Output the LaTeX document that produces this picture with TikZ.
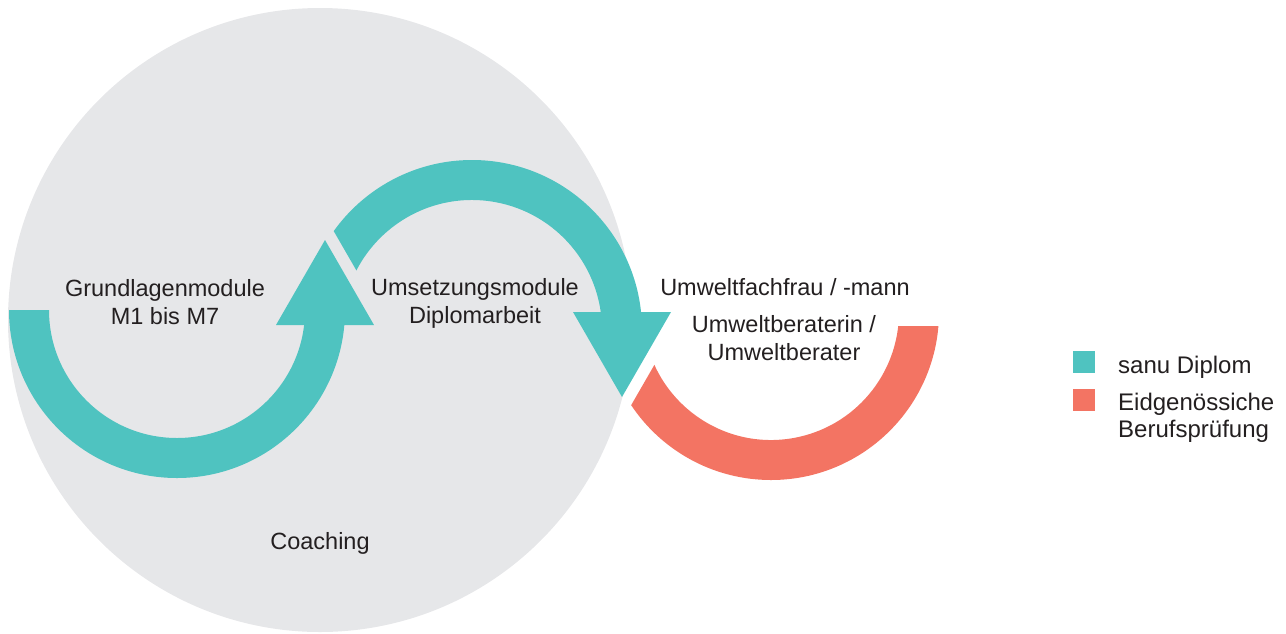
\documentclass[tikz,border=0pt]{standalone}
\usepackage{fontspec}
\setmainfont{Liberation Sans}
\usetikzlibrary{calc}

\definecolor{coachgrey}{HTML}{E6E7E9}
\definecolor{sanuteal}{HTML}{4FC3C0}
\definecolor{bpcoral}{HTML}{F37463}
\definecolor{modink}{HTML}{231F20}

\begin{document}
\begin{tikzpicture}[x=1pt, y=-1pt,
  modtext/.style={text=modink, font=\fontsize{23.5}{28}\selectfont, align=center, inner sep=0pt},
  legendbox/.style={fill=#1, minimum size=22pt, inner sep=0pt}]
\useasboundingbox (0,0) rectangle (1286,633);

% Coaching circle
\fill[coachgrey] (320,320) circle[radius=312];

% Centres of the three arcs
\coordinate (c1) at (177,310);
\coordinate (c2) at (472,330);
\coordinate (c3) at (771,312);

% First arc with arrow head
\fill[sanuteal] ($(c1)+(0:168)$) arc[start angle=0, end angle=180, radius=168]
  -- ($(c1)+(180:128)$) arc[start angle=180, end angle=0, radius=128] -- cycle;
\fill[sanuteal] (276,325) -- (374,325) -- (325,240) -- cycle;

% Second arc, cut parallel to the first arrow head
\begin{scope}
  \clip (235.5,60.7) -- (435.3,407.3) -- (700,407) -- (700,0) -- (235.5,0) -- cycle;
  \fill[sanuteal] ($(c2)+(0:170)$) arc[start angle=0, end angle=-170, radius=170]
    -- ($(c2)+(-170:130)$) arc[start angle=-170, end angle=0, radius=130] -- cycle;
\end{scope}
\fill[sanuteal] (573,312) -- (671,312) -- (622,397) -- cycle;

% Third arc: Berufspruefung
\begin{scope}
  \clip (676.8,326) -- (1000,326) -- (1000,600) -- (518.8,600) -- cycle;
  \fill[bpcoral] ($(c3)+(0:168)$) arc[start angle=0, end angle=170, radius=168]
    -- ($(c3)+(170:128)$) arc[start angle=170, end angle=0, radius=128] -- cycle;
\end{scope}

% Labels
\node[modtext] (grundlagen) at (165,302) {Grundlagenmodule\\M1 bis M7};
\node[modtext] (umsetzung) at (475,303) {Umsetzungsmodule\\Diplomarbeit};
\node[modtext, anchor=base] (fachfrau) at (785,295) {Umweltfachfrau / -mann};
\node[modtext] (berater) at (784,338) {Umweltberaterin /\\Umweltberater};
\node[modtext, anchor=base] (coaching) at (320,549) {Coaching};

% Legend
\node[legendbox=sanuteal] (diplombox) at (1084,362) {};
\node[legendbox=bpcoral] (bpbox) at (1084,400) {};
\node[modtext, anchor=base west, font=\fontsize{24}{27}\selectfont] (diplomtext) at (1118,373) {sanu Diplom};
\node[modtext, anchor=west, align=left, font=\fontsize{24}{27}\selectfont] (bptext) at (1118,418) {Eidgenössiche\\Berufsprüfung};
\end{tikzpicture}
\end{document}
